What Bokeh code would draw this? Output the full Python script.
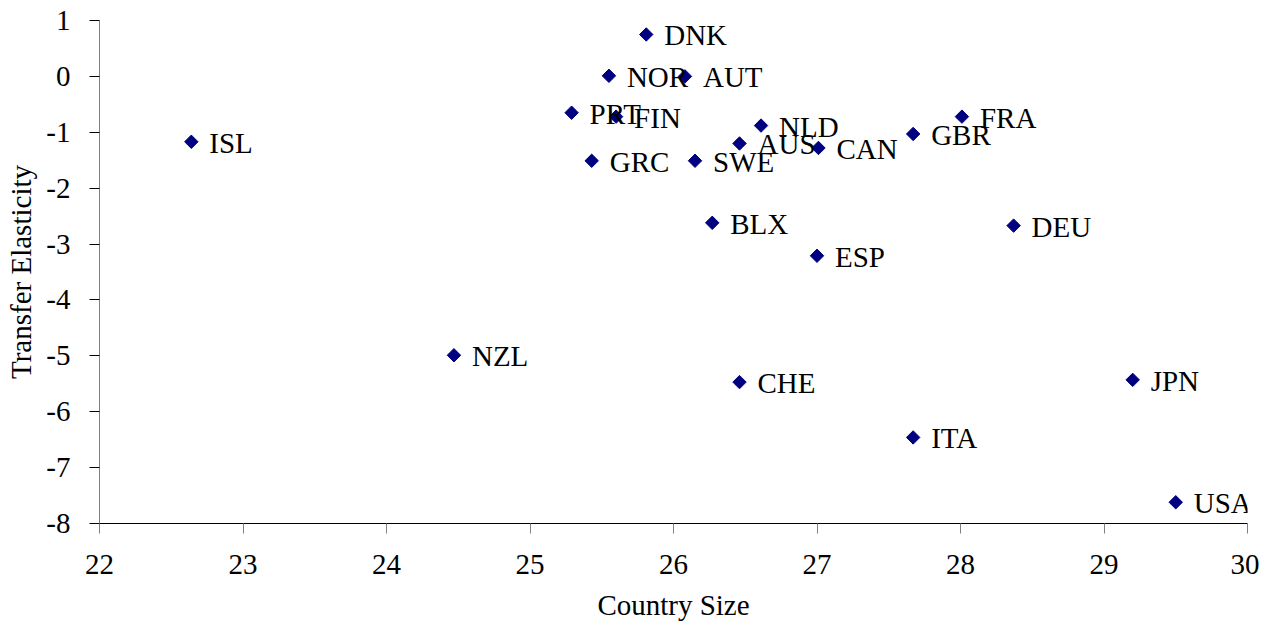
import numpy as np
from bokeh.plotting import figure
from bokeh.models import ColumnDataSource, Range1d, FixedTicker, LabelSet
from bokeh.embed import file_html
from bokeh.resources import INLINE

countries = ["ISL", "NZL", "PRT", "GRC", "NOR", "FIN", "DNK", "AUT", "SWE", "BLX", "AUS",
             "CHE", "NLD", "ESP", "CAN", "GBR", "ITA", "FRA", "DEU", "JPN", "USA"]
country_size = [22.64, 24.47, 25.29, 25.43, 25.55, 25.60, 25.81, 26.08, 26.15, 26.27, 26.46,
                26.46, 26.61, 27.00, 27.01, 27.67, 27.67, 28.01, 28.37, 29.20, 29.50]
transfer_elasticity = [-1.17, -4.99, -0.65, -1.51, 0.01, -0.72, 0.75, 0.0, -1.51, -2.62, -1.20,
                       -5.47, -0.88, -3.21, -1.28, -1.03, -6.46, -0.72, -2.67, -5.43, -7.62]
x_ticks = [22, 23, 24, 25, 26, 27, 28, 29, 30]
y_ticks = [-8, -7, -6, -5, -4, -3, -2, -1, 0, 1]

FONT = "Liberation Serif"
FS = "29px"

src = ColumnDataSource(dict(x=country_size, y=transfer_elasticity, name=countries))

p = figure(output_backend="svg", toolbar_location=None,
           x_range=Range1d(22, 30), y_range=Range1d(-8, 1),
           frame_width=1148, frame_height=503,
           min_border_left=99, min_border_right=12, min_border_top=20, min_border_bottom=90)
p.outline_line_color = None
p.grid.visible = False

p.scatter("x", "y", source=src, marker="square", angle=np.pi / 4, size=9.5,
          fill_color="#000080", line_color="#000080")

labels = LabelSet(x="x", y="y", text="name", source=src, x_offset=18, y_offset=-1,
                  text_baseline="middle", text_font=FONT, text_font_size=FS,
                  text_color="black")
p.add_layout(labels)

p.xaxis.ticker = FixedTicker(ticks=x_ticks)
p.yaxis.ticker = FixedTicker(ticks=y_ticks)
p.xaxis.major_label_overrides = {t: str(t) for t in x_ticks}
p.yaxis.major_label_overrides = {t: str(t) for t in y_ticks}
for ax in (p.xaxis, p.yaxis):
    ax.major_label_text_font = FONT
    ax.major_label_text_font_size = FS
    ax.major_label_text_color = "black"
    ax.axis_label_text_font = FONT
    ax.axis_label_text_font_size = FS
    ax.axis_label_text_font_style = "normal"
    ax.axis_label_text_color = "black"
    ax.minor_tick_line_color = None
    ax.major_tick_out = 10
    ax.major_tick_in = 0
p.xaxis.axis_line_color = "black"
p.yaxis.axis_line_color = "#808080"
p.xaxis.major_tick_line_color = "#808080"
p.yaxis.major_tick_line_color = "black"
p.xaxis.major_label_standoff = 21
p.yaxis.major_label_standoff = 19
p.xaxis.axis_label = "Country Size"
p.yaxis.axis_label = "Transfer Elasticity"
p.xaxis.axis_label_standoff = 12
p.yaxis.axis_label_standoff = 6

open("out.html", "w").write(file_html(p, INLINE))
